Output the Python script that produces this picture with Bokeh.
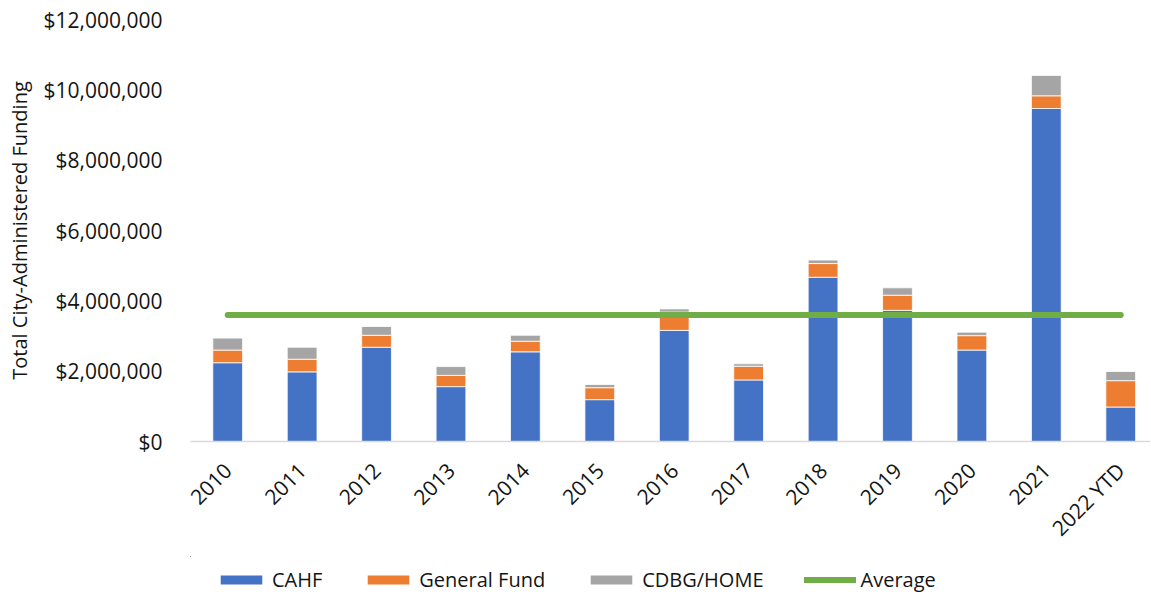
import math
from bokeh.plotting import figure
from bokeh.layouts import column
from bokeh.models import (ColumnDataSource, Range1d, FixedTicker, NumeralTickFormatter,
                          Legend, LegendItem)
from bokeh.embed import file_html
from bokeh.resources import INLINE

years = ["2010", "2011", "2012", "2013", "2014", "2015", "2016", "2017",
         "2018", "2019", "2020", "2021", "2022 YTD"]
cahf = [2240000, 1980000, 2680000, 1560000, 2550000, 1190000, 3160000, 1750000,
        4670000, 3730000, 2600000, 9470000, 980000]
general_fund = [360000, 360000, 340000, 320000, 300000, 340000, 520000, 390000,
                390000, 430000, 410000, 360000, 750000]
cdbg_home = [340000, 340000, 250000, 250000, 170000, 90000, 90000, 70000,
             100000, 210000, 100000, 580000, 260000]
average = [3600000, 3600000, 3600000, 3600000, 3600000, 3600000, 3600000,
           3600000, 3600000, 3600000, 3600000, 3600000, 3600000]
y_ticks = [0, 2000000, 4000000, 6000000, 8000000, 10000000, 12000000]
series_names = ["CAHF", "General Fund", "CDBG/HOME", "Average"]
colors = ["#4472C4", "#ED7D31", "#A5A5A5", "#70AD47"]

FONT = "Open Sans"
TXT = "#141414"

xs = list(range(len(years)))
src = ColumnDataSource(dict(x=xs, cahf=cahf, gf=general_fund, cdbg=cdbg_home, avg=average))

p = figure(width=1150, height=556, output_backend="svg", toolbar_location=None,
           x_range=Range1d(-0.5, 12.40), y_range=Range1d(0, 12000000),
           min_border_left=190, min_border_top=19, min_border_right=0,
           min_border_bottom=115)
p.outline_line_color = None
p.grid.grid_line_color = None
p.background_fill_color = "white"
p.border_fill_color = "white"

bars = p.vbar_stack(["cahf", "gf", "cdbg"], x="x", width=0.4, source=src,
                    color=colors[:3], line_color="white", line_width=0.8)
avg_line = p.line("x", "avg", source=src, line_color=colors[3], line_width=6,
                  line_cap="round")

# axes
p.xaxis.ticker = FixedTicker(ticks=xs)
p.xaxis.major_label_overrides = {i: y for i, y in enumerate(years)}
p.xaxis.major_label_orientation = math.pi / 4
p.xaxis.major_label_text_font = FONT
p.xaxis.major_label_text_font_size = "21px"
p.xaxis.major_label_text_color = TXT
p.xaxis.axis_line_color = "#D9D9D9"
p.xaxis.axis_line_width = 1.5
p.xaxis.major_tick_line_color = None
p.xaxis.minor_tick_line_color = None
p.xaxis.major_label_standoff = 19

p.yaxis.ticker = FixedTicker(ticks=y_ticks)
p.yaxis.formatter = NumeralTickFormatter(format="$0,0")
p.yaxis.major_label_text_font = FONT
p.yaxis.major_label_text_font_size = "21px"
p.yaxis.major_label_text_color = TXT
p.yaxis.axis_line_color = None
p.yaxis.major_tick_line_color = None
p.yaxis.minor_tick_line_color = None
p.yaxis.major_label_standoff = 22
p.yaxis.axis_label = "Total City-Administered Funding"
p.yaxis.axis_label_text_font = FONT
p.yaxis.axis_label_text_font_size = "20px"
p.yaxis.axis_label_text_font_style = "normal"
p.yaxis.axis_label_text_color = TXT
p.yaxis.axis_label_standoff = 8

# legend strip below the chart (same data, ranges set far away so only the legend shows)
lg = figure(width=1150, height=37, output_backend="svg", toolbar_location=None,
            x_range=Range1d(1000, 1012), y_range=Range1d(-24000000, -12000000),
            min_border_left=0, min_border_right=0, min_border_top=0, min_border_bottom=0)
lg.axis.visible = False
lg.grid.grid_line_color = None
lg.outline_line_color = None
lg.background_fill_color = "white"
lg.border_fill_color = "white"
lbars = lg.vbar_stack(["cahf", "gf", "cdbg"], x="x", width=0.4, source=src,
                      color=colors[:3], line_color=None)
lline = lg.line("x", "avg", source=src, line_color=colors[3], line_width=6,
                line_cap="round")

legend = Legend(items=[
    LegendItem(label=series_names[0], renderers=[lbars[0]]),
    LegendItem(label=series_names[1], renderers=[lbars[1]]),
    LegendItem(label=series_names[2], renderers=[lbars[2]]),
    LegendItem(label=series_names[3], renderers=[lline]),
], orientation="horizontal", location=(25, 0))
legend.label_text_font = FONT
legend.label_text_font_size = "20px"
legend.label_text_color = TXT
legend.glyph_width = 52
legend.glyph_height = 11
legend.label_standoff = 5
legend.spacing = 40
legend.border_line_color = None
legend.background_fill_alpha = 0
legend.margin = 0
legend.padding = 0
lg.add_layout(legend, "center")

layout = column(p, lg, spacing=0)
open("out.html", "w").write(file_html(layout, INLINE))
